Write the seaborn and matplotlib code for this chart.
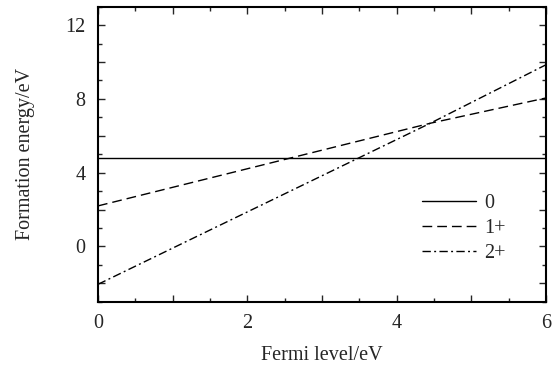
import numpy as np
import pandas as pd
import matplotlib
matplotlib.use("Agg")
import matplotlib.pyplot as plt
import seaborn as sns
from matplotlib.ticker import MultipleLocator, FuncFormatter

# Data
charge_labels = ["0", "1+", "2+"]
fermi_q0 = [0.0, 6.0]
e_q0 = [4.8, 4.8]
fermi_q1 = [0.0, 4.45, 6.0]
e_q1 = [2.2, 6.68, 8.05]
fermi_q2 = [0.0, 4.45, 6.0]
e_q2 = [-2.05, 6.68, 9.85]

sns.set_style("ticks")
plt.rcParams["font.family"] = ["Liberation Serif", "DejaVu Serif"]

fig = plt.figure(figsize=(5.6, 3.69), dpi=100)
ax = fig.add_axes([0.175, 0.182, 0.800, 0.800])

styles = ["-", (0, (7, 3.6)), (0, (6, 2.4, 1.4, 2.4))]
for lab, xs, vals, ls in zip(charge_labels, [fermi_q0, fermi_q1, fermi_q2],
                              [e_q0, e_q1, e_q2], styles):
    df = pd.DataFrame({"x": xs, "y": vals})
    sns.lineplot(data=df, x="x", y="y", ax=ax, color="black", lw=1.0,
                 linestyle=ls, label=lab)

ax.set_xlim(0, 6)
ax.set_ylim(-3, 13)
ax.xaxis.set_major_locator(MultipleLocator(1))
ax.xaxis.set_minor_locator(MultipleLocator(0.5))
ax.yaxis.set_major_locator(MultipleLocator(2))
ax.yaxis.set_minor_locator(MultipleLocator(1))
ax.xaxis.set_major_formatter(FuncFormatter(lambda v, p: f"{v:.0f}" if round(v) % 2 == 0 else ""))
ax.yaxis.set_major_formatter(FuncFormatter(lambda v, p: f"{v:.0f}" if round(v) % 4 == 0 else ""))
ax.tick_params(which="both", direction="in", top=True, right=True, width=1.0, labelsize=14.5)
ax.tick_params(axis="x", which="major", pad=9)
ax.tick_params(axis="y", which="major", pad=9)
ax.tick_params(which="major", length=5)
ax.tick_params(which="minor", length=3)
for s in ax.spines.values():
    s.set_linewidth(1.5)
    s.set_color("black")

ax.set_xlabel("Fermi level/eV", fontsize=14.5, labelpad=9)
ax.set_ylabel("Formation energy/eV", fontsize=14.5, labelpad=22)

leg = ax.legend(loc="upper left", bbox_to_anchor=(0.70, 0.40), frameon=False,
                fontsize=14.5, handlelength=2.7, handletextpad=0.4,
                labelspacing=0.3, borderpad=0)

fig.savefig("out.png", dpi=100)
